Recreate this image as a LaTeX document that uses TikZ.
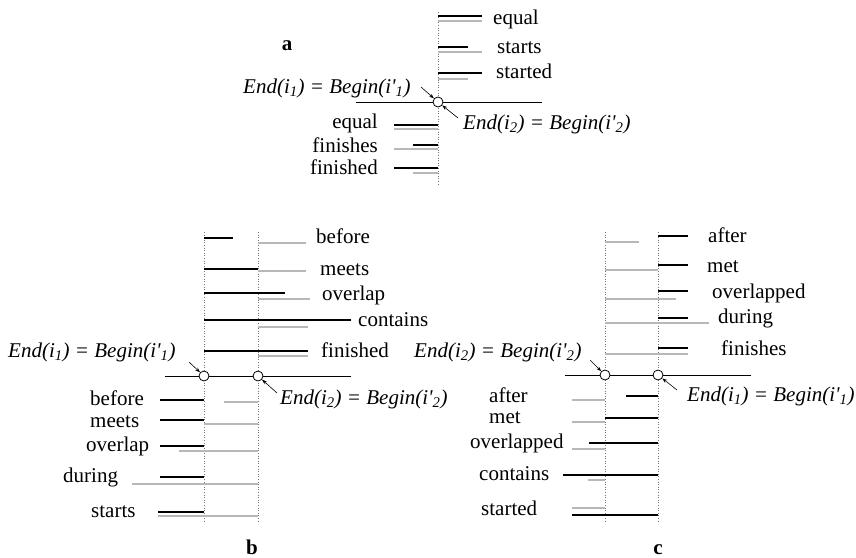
\documentclass[tikz,border=0pt]{standalone}
\usepackage{fontspec}
\setmainfont{Liberation Serif}
\newfontfamily\lbfont{Liberation Serif}
\usetikzlibrary{arrows.meta}
\begin{document}
\begin{tikzpicture}[x=1pt,y=-1pt,
  lbl/.style={inner sep=0pt,anchor=base west,font=\fontsize{21}{24}\selectfont},
  lblr/.style={lbl,anchor=base east},
  ital/.style={inner sep=0pt,anchor=base west,font=\fontsize{21}{24}\selectfont\lbfont\itshape},
  ttl/.style={inner sep=0pt,anchor=base,font=\fontsize{21}{24}\selectfont\bfseries},
  blk/.style={line width=2pt,black},
  gry/.style={line width=1.6pt,color=black!28},
  guide/.style={dotted,line width=0.6pt,color=black!55},
  axis/.style={line width=0.8pt},
  endpt/.style={circle,draw,fill=white,minimum size=10pt,inner sep=0pt,line width=0.8pt},
  ptr/.style={-{Stealth[length=5pt,width=3.5pt]},line width=0.6pt}
]
\useasboundingbox (0,0) rectangle (856,557);
\newcommand{\eqlbl}[2]{End(i\textsubscript{#1}) = Begin(i'\textsubscript{#2})}

% ---------------- panel a ----------------
\draw[guide] (438,12) -- (438,186);
\draw[axis] (356,102) -- (542,102);
\draw[blk] (438,16) -- (482,16);  \draw[gry] (438,21) -- (482,21);
\draw[blk] (438,47) -- (468,47);  \draw[gry] (438,52) -- (482,52);
\draw[blk] (438,73) -- (482,73);  \draw[gry] (438,79) -- (468,79);
\draw[blk] (394,125) -- (438,125); \draw[gry] (394,129) -- (438,129);
\draw[blk] (413,145) -- (438,145); \draw[gry] (394,149) -- (438,149);
\draw[blk] (394,168) -- (438,168); \draw[gry] (413,173) -- (438,173);
\node[endpt] (ca) at (438,102) {};
\node[lbl] (la1) at (493,24) {equal};
\node[lbl] (la2) at (497,53) {starts};
\node[lbl] (la3) at (496,78) {started};
\node[lblr] (la4) at (378,128) {equal};
\node[lblr] (la5) at (378,152) {finishes};
\node[lblr] (la6) at (378,174) {finished};
\node[ttl] (ta) at (287,50) {a};
\node[ital] (ea1) at (243,93) {\eqlbl{1}{1}};
\node[ital] (ea2) at (463,129) {\eqlbl{2}{2}};
\coordinate (pa1) at (421,87);
\coordinate (pa2) at (458,118);
\draw[ptr] (pa1) -- (ca);
\draw[ptr] (pa2) -- (ca);

% ---------------- panel b ----------------
\draw[guide] (204,232) -- (204,523);
\draw[guide] (258,232) -- (258,523);
\draw[axis] (165,376) -- (351,376);
\draw[blk] (204,238) -- (233,238); \draw[gry] (258,243) -- (306,243);
\draw[blk] (204,269) -- (258,269); \draw[gry] (258,271) -- (306,271);
\draw[blk] (204,293) -- (285,293); \draw[gry] (258,299) -- (310,299);
\draw[blk] (204,320) -- (351,320); \draw[gry] (258,327) -- (308,327);
\draw[blk] (204,351) -- (308,351); \draw[gry] (258,356) -- (308,356);
\draw[blk] (160,400) -- (204,400); \draw[gry] (224,402) -- (258,402);
\draw[blk] (160,420) -- (204,420); \draw[gry] (204,424) -- (258,424);
\draw[blk] (160,446) -- (204,446); \draw[gry] (179,451) -- (258,451);
\draw[blk] (160,477) -- (204,477); \draw[gry] (132,484) -- (258,484);
\draw[blk] (158,512) -- (204,512); \draw[gry] (158,516) -- (258,516);
\node[endpt] (cb1) at (204,376) {};
\node[endpt] (cb2) at (258,376) {};
\node[lbl] (lb1) at (316,243) {before};
\node[lbl] (lb2) at (320,275) {meets};
\node[lbl] (lb3) at (322,300) {overlap};
\node[lbl] (lb4) at (358,326) {contains};
\node[lbl] (lb5) at (321,357) {finished};
\node[lbl] (lb6) at (90,405) {before};
\node[lbl] (lb7) at (90,427) {meets};
\node[lbl] (lb8) at (86,451) {overlap};
\node[lbl] (lb9) at (63,482) {during};
\node[lbl] (lb10) at (91,517) {starts};
\node[ttl] (tb) at (252,554) {b};
\node[ital] (eb1) at (8,357) {\eqlbl{1}{1}};
\node[ital] (eb2) at (280,404) {\eqlbl{2}{2}};
\coordinate (pb1) at (189,362);
\coordinate (pb2) at (277,393);
\draw[ptr] (pb1) -- (cb1);
\draw[ptr] (pb2) -- (cb2);

% ---------------- panel c ----------------
\draw[guide] (605,232) -- (605,522);
\draw[guide] (658,232) -- (658,522);
\draw[axis] (565,375) -- (751,375);
\draw[gry] (605,242) -- (639,242); \draw[blk] (658,236) -- (688,236);
\draw[gry] (605,270) -- (658,270); \draw[blk] (658,265) -- (688,265);
\draw[gry] (605,299) -- (676,299); \draw[blk] (658,291) -- (688,291);
\draw[gry] (605,323) -- (709,323); \draw[blk] (658,318) -- (688,318);
\draw[gry] (605,354) -- (688,354); \draw[blk] (658,348) -- (688,348);
\draw[gry] (572,400) -- (605,400); \draw[blk] (626,396) -- (658,396);
\draw[gry] (572,422) -- (605,422); \draw[blk] (605,418) -- (658,418);
\draw[gry] (572,449) -- (605,449); \draw[blk] (589,443) -- (658,443);
\draw[gry] (588,480) -- (605,480); \draw[blk] (563,475) -- (658,475);
\draw[gry] (572,508) -- (605,508); \draw[blk] (572,515) -- (658,515);
\node[endpt] (cc1) at (605,375) {};
\node[endpt] (cc2) at (658,375) {};
\node[lbl] (lc1) at (708,242) {after};
\node[lbl] (lc2) at (707,272) {met};
\node[lbl] (lc3) at (712,298) {overlapped};
\node[lbl] (lc4) at (718,323) {during};
\node[lbl] (lc5) at (721,355) {finishes};
\node[lbl] (lc6) at (489,402) {after};
\node[lbl] (lc7) at (489,423) {met};
\node[lbl] (lc8) at (470,448) {overlapped};
\node[lbl] (lc9) at (479,480) {contains};
\node[lbl] (lc10) at (481,515) {started};
\node[ttl] (tc) at (658,554) {c};
\node[ital] (ec1) at (414,357) {\eqlbl{2}{2}};
\node[ital] (ec2) at (687,401) {\eqlbl{1}{1}};
\coordinate (pc1) at (590,360);
\coordinate (pc2) at (677,390);
\draw[ptr] (pc1) -- (cc1);
\draw[ptr] (pc2) -- (cc2);
\end{tikzpicture}
\end{document}
